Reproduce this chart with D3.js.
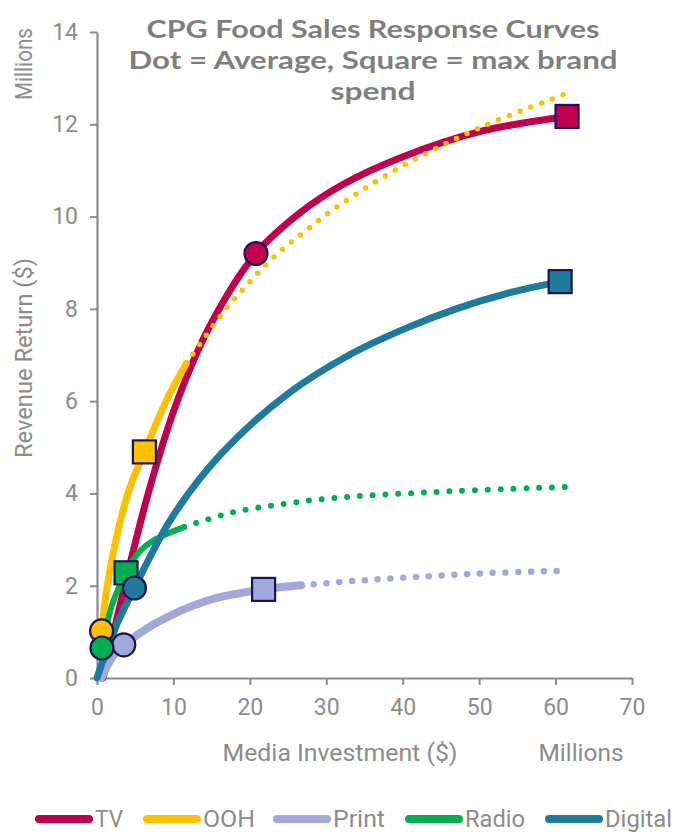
<!DOCTYPE html>
<html>
<head>
<meta charset="utf-8">
<script src="https://cdn.jsdelivr.net/npm/d3@7"></script>
<style>
  body { margin: 0; background: #fff; }
  svg { display: block; }
</style>
</head>
<body>
<svg id="chart" width="674" height="832"></svg>
<script>
// Channel response curves: solid = within observed spend, dotted = extrapolated
const channels = ["TV", "OOH", "Print", "Radio", "Digital"];
const colors = ["#C0004F", "#FFC000", "#A1A9DC", "#00B050", "#1F7B9B"];

const tvSolid = [[0.8,0],[3.2,1.7],[6.7,4.0],[10.5,6.0],[15,7.7],[20.8,9.2],[26.7,10.1],[32,10.68],[39.8,11.28],[50.3,11.85],[61.5,12.17]];
const oohSolid = [[0.6,1.02],[1.65,2.3],[4.05,4.0],[6.2,4.9],[9.05,6.0],[11.7,6.82]];
const oohDotted = [[11.7,6.82],[16.5,7.92],[19.8,8.55],[23.3,9.15],[27.3,9.69],[31.3,10.2],[39.8,11.08],[50.3,11.94],[61.5,12.67]];
const printSolid = [[0.6,0],[2,0.45],[3.6,0.72],[7.5,1.17],[14.5,1.68],[21.8,1.92],[26.7,2.01]];
const printDotted = [[26.7,2.01],[35,2.12],[43.7,2.21],[52,2.28],[60.4,2.32]];
const radioSolid = [[0.65,0.65],[2,1.6],[3.8,2.28],[5.35,2.7],[7.5,2.99],[11.4,3.27]];
const radioDotted = [[11.4,3.27],[17.5,3.58],[24.3,3.77],[31,3.9],[44.1,4.03],[61.2,4.14]];
const digitalSolid = [[0,0],[2.3,1.05],[4.9,1.95],[9.7,3.45],[16.2,4.85],[24.9,6.15],[33,7.0],[40,7.55],[47,8.0],[54,8.35],[60.6,8.59]];

// Dot = average spend, square = max brand spend (same order as channels)
const avgSpend = [[20.8,9.2],[0.6,1.02],[3.5,0.72],[0.65,0.65],[4.9,1.95]];
const maxSpend = [[61.5,12.17],[6.2,4.9],[21.8,1.92],[3.8,2.28],[60.6,8.59]];

const xTicks = [0, 10, 20, 30, 40, 50, 60, 70];
const yTicks = [0, 2, 4, 6, 8, 10, 12, 14];
const titleLines = ["CPG Food Sales Response Curves", "Dot = Average, Square = max brand", "spend"];

const svg = d3.select("#chart");
const x = d3.scaleLinear().domain([0, 70]).range([97, 632]);
const y = d3.scaleLinear().domain([0, 14]).range([678, 32]);

const axisColor = "#8A8A99";
const textColor = "#8C8C8C";
const labelFont = "'Liberation Sans Narrow', 'Roboto', 'DejaVu Sans', sans-serif";

// Axes
const yAxis = svg.append("g")
  .attr("transform", `translate(${x(0)},0)`)
  .call(d3.axisLeft(y).tickValues(yTicks).tickSize(7).tickSizeOuter(0).tickPadding(12));
const xAxis = svg.append("g")
  .attr("transform", `translate(0,${y(0)})`)
  .call(d3.axisBottom(x).tickValues(xTicks).tickSize(7).tickSizeOuter(0).tickPadding(14));

[yAxis, xAxis].forEach(g => {
  g.select(".domain").attr("stroke", axisColor).attr("stroke-width", 2.2);
  g.selectAll(".tick line").attr("stroke", axisColor).attr("stroke-width", 2);
  g.selectAll(".tick text")
    .attr("fill", textColor)
    .style("font-family", labelFont)
    .style("font-size", "23px");
});

// Axis titles
svg.append("text")
  .attr("transform", "translate(32,358) rotate(-90)")
  .attr("text-anchor", "middle")
  .attr("fill", textColor)
  .style("font-family", labelFont).style("font-size", "23px")
  .attr("textLength", 200).attr("lengthAdjust", "spacingAndGlyphs")
  .text("Revenue Return ($)");
svg.append("text")
  .attr("transform", "translate(32,64) rotate(-90)")
  .attr("text-anchor", "middle")
  .attr("fill", textColor)
  .style("font-family", labelFont).style("font-size", "23px")
  .attr("textLength", 72).attr("lengthAdjust", "spacingAndGlyphs")
  .text("Millions");
svg.append("text")
  .attr("x", 340).attr("y", 761)
  .attr("text-anchor", "middle")
  .attr("fill", textColor)
  .style("font-family", labelFont).style("font-size", "23px")
  .attr("textLength", 235).attr("lengthAdjust", "spacingAndGlyphs")
  .text("Media Investment ($)");
svg.append("text")
  .attr("x", 581).attr("y", 761)
  .attr("text-anchor", "middle")
  .attr("fill", textColor)
  .style("font-family", labelFont).style("font-size", "23px")
  .attr("textLength", 85).attr("lengthAdjust", "spacingAndGlyphs")
  .text("Millions");

// Curves
const line = d3.line().x(d => x(d[0])).y(d => y(d[1])).curve(d3.curveCatmullRom.alpha(0.5));
const curves = svg.append("g").attr("fill", "none").attr("stroke-linecap", "round");

function solid(data, i, w) {
  curves.append("path").attr("d", line(data))
    .attr("stroke", colors[i]).attr("stroke-width", w);
}
function dotted(data, i, w, gap) {
  curves.append("path").attr("d", line(data))
    .attr("stroke", colors[i]).attr("stroke-width", w)
    .attr("stroke-dasharray", `0 ${gap}`);
}

solid(tvSolid, 0, 7);
dotted(oohDotted, 1, 5.5, 11.5);
solid(oohSolid, 1, 7);
dotted(printDotted, 2, 6.5, 12.8);
solid(printSolid, 2, 8);
dotted(radioDotted, 3, 6, 12.8);
solid(radioSolid, 3, 6);
solid(digitalSolid, 4, 7);

// Markers
const markerStroke = "#1B1558";
const markers = svg.append("g");
const sq = 23;
maxSpend.forEach((p, i) => {
  markers.append("rect")
    .attr("x", x(p[0]) - sq / 2).attr("y", y(p[1]) - sq / 2)
    .attr("width", sq).attr("height", sq)
    .attr("fill", colors[i]).attr("stroke", markerStroke).attr("stroke-width", 2.2);
});
avgSpend.forEach((p, i) => {
  markers.append("circle")
    .attr("cx", x(p[0])).attr("cy", y(p[1])).attr("r", 11.5)
    .attr("fill", colors[i]).attr("stroke", markerStroke).attr("stroke-width", 2.2);
});

// Title
const titleY = [38, 69, 100];
const titleW = [453, 489, 85];
titleLines.forEach((t, i) => {
  svg.append("text")
    .attr("x", 373).attr("y", titleY[i])
    .attr("text-anchor", "middle")
    .attr("fill", "#7F7F7F")
    .style("font-family", "'Lato', 'Open Sans', sans-serif")
    .style("font-weight", "bold").style("font-size", "25px")
    .attr("textLength", titleW[i]).attr("lengthAdjust", "spacingAndGlyphs")
    .text(t);
});

// Legend
const legendX = [35, 143, 273, 405, 545];
const legendW = [28, 52, 52, 60, 67];
const legend = svg.append("g");
channels.forEach((c, i) => {
  legend.append("line")
    .attr("x1", legendX[i] + 4).attr("x2", legendX[i] + 54)
    .attr("y1", 819).attr("y2", 819)
    .attr("stroke", colors[i]).attr("stroke-width", 8).attr("stroke-linecap", "round");
  legend.append("text")
    .attr("x", legendX[i] + 60).attr("y", 827)
    .attr("fill", textColor)
    .style("font-family", labelFont).style("font-size", "23px")
    .attr("textLength", legendW[i]).attr("lengthAdjust", "spacingAndGlyphs")
    .text(c);
});
</script>
</body>
</html>
